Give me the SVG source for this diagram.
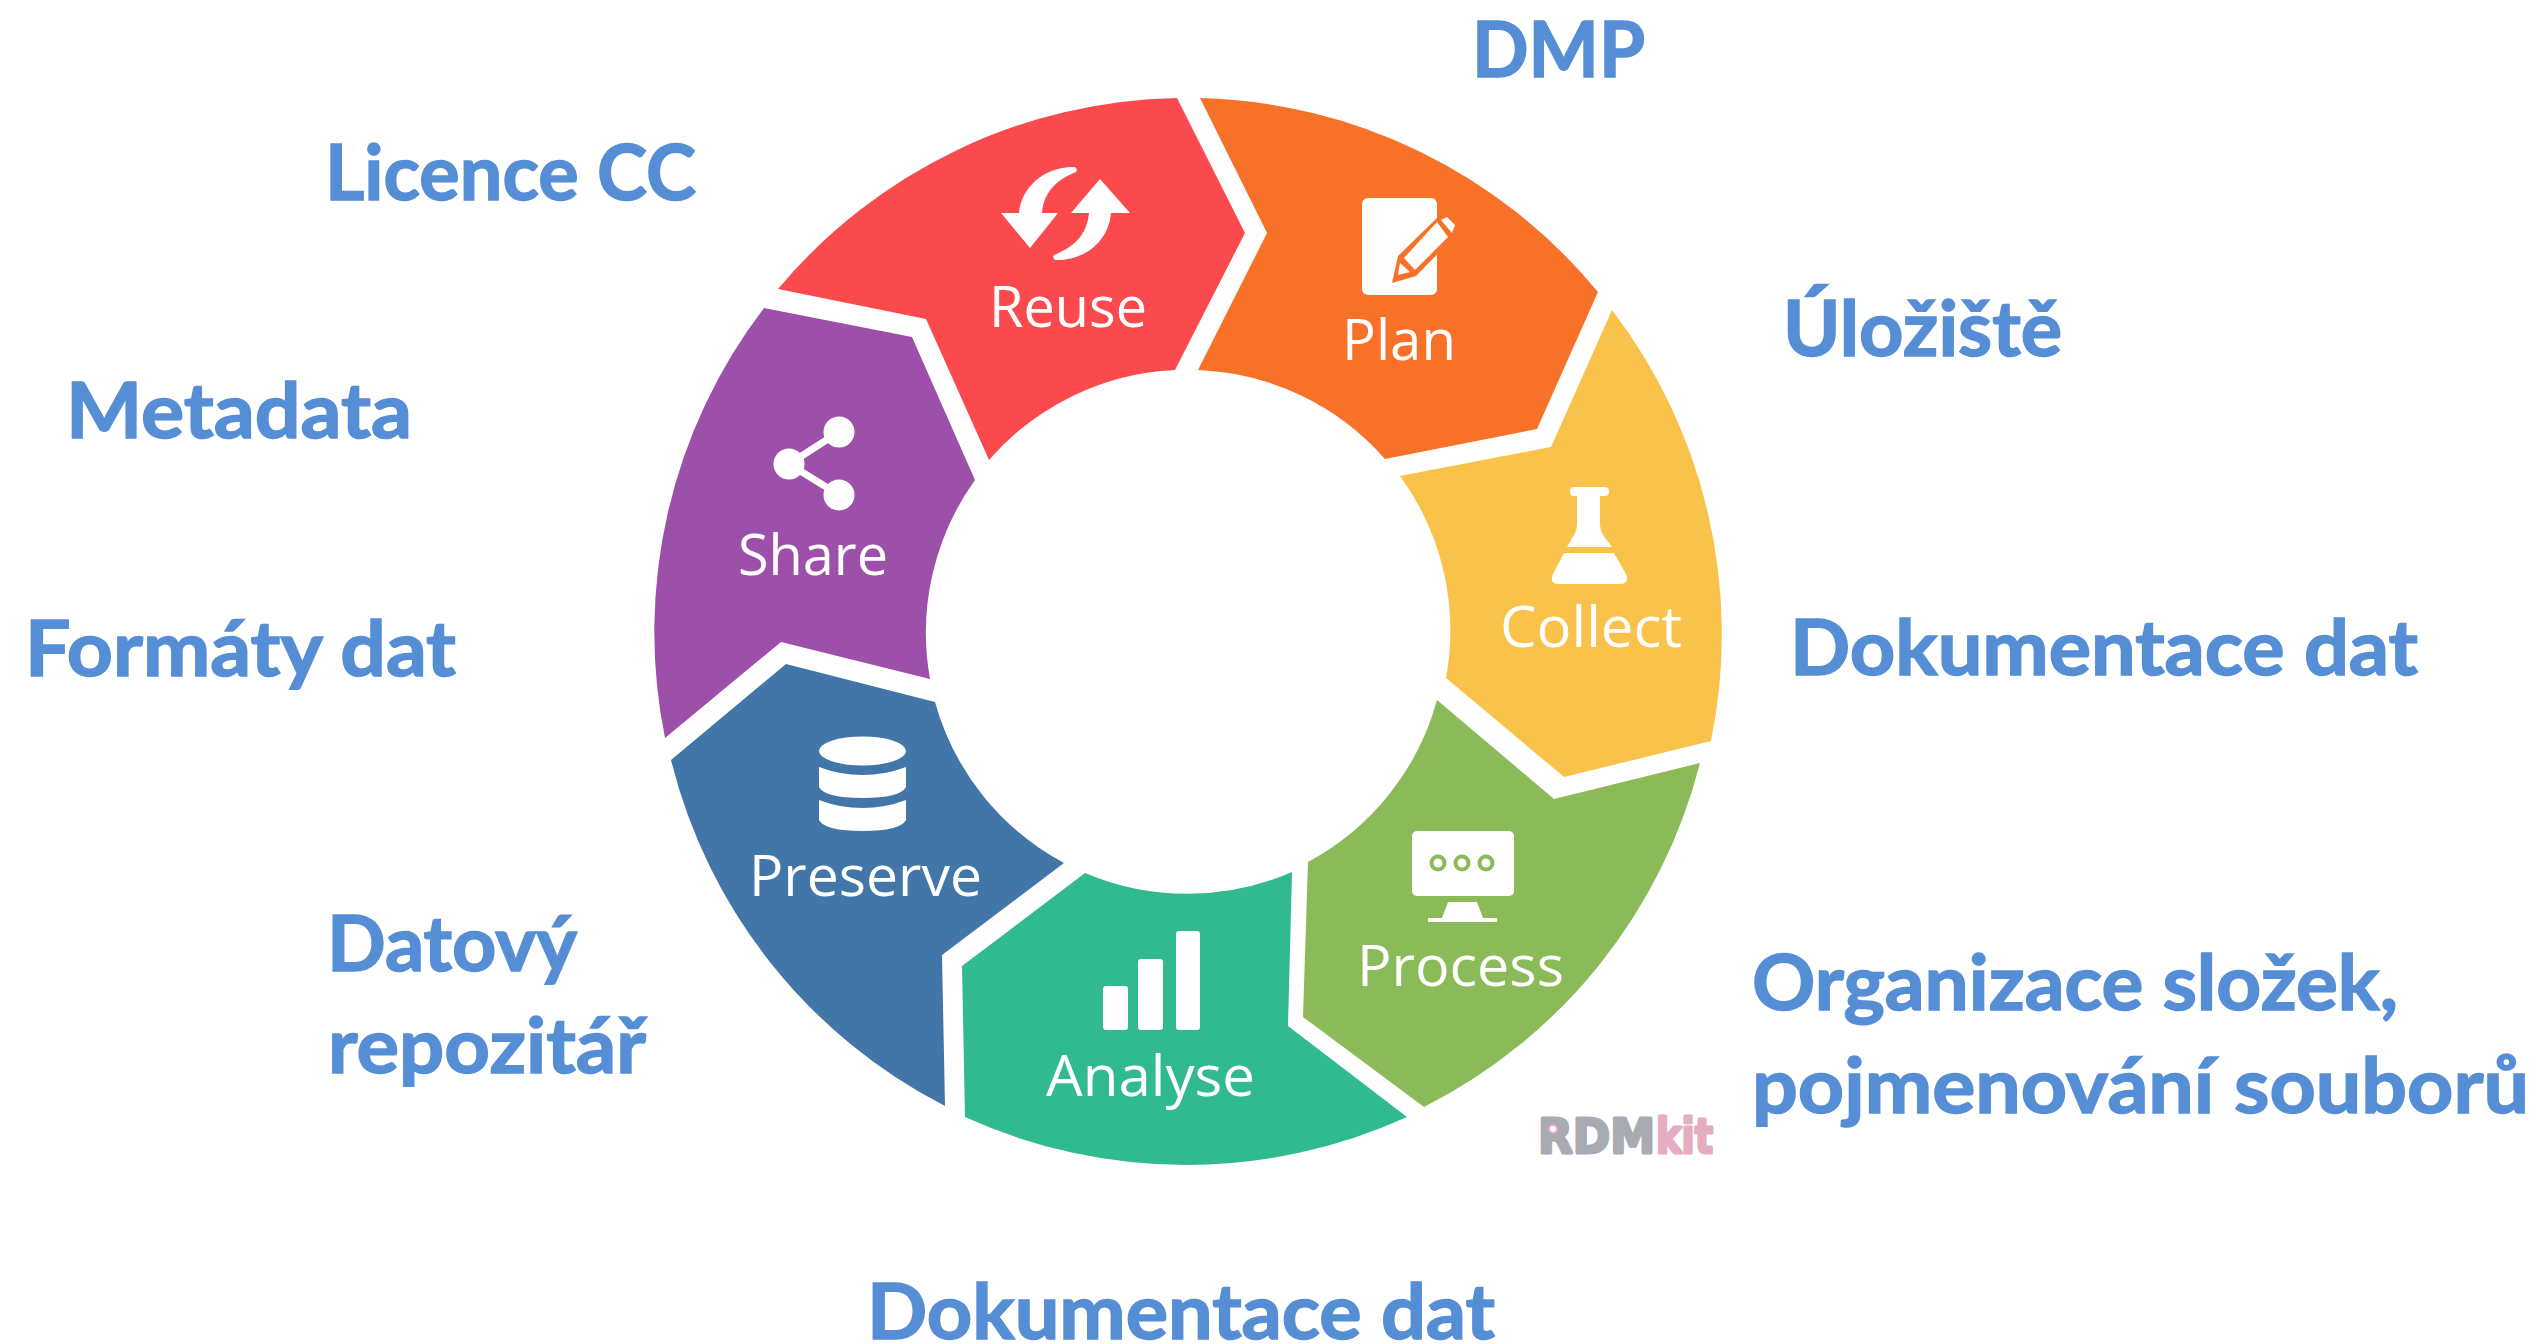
<svg xmlns="http://www.w3.org/2000/svg" width="2539" height="1344" viewBox="0 0 2539 1344">
<style>
.lbl{font-family:"Lato","Liberation Sans",sans-serif;font-weight:700;font-size:77px;fill:#568ED6;stroke:#568ED6;stroke-width:1.500px}
.seg{font-family:"Open Sans","Noto Sans",sans-serif;font-size:56px;fill:#fff}
.ic{fill:#fff}
</style>
<rect width="2539" height="1344" fill="#fff"/>
<g id="node-reuse">
<path fill="#FB4A4E" d="M778,289A533,533 0 0 1 1177,98L1245,233L1175,370A262,262 0 0 0 989,460L926,319Z"/>
<path class="ic" d="M1001,213H1019C1021,188 1044,166 1075,167Q1078,170 1076,172C1056,180 1044,192 1042,213H1058L1030,248Z"/>
<path class="ic" d="M1071,213L1100,179L1130,213H1111C1109,240 1086,261 1055,260Q1052,257 1054,255C1074,247 1087,235 1089,213Z"/>
<text class="seg" x="989" y="327" textLength="158" lengthAdjust="spacingAndGlyphs">Reuse</text>
</g>
<g id="node-plan">
<path fill="#F77228" d="M1200,98A533,533 0 0 1 1598,292L1537,429L1385,459A262,262 0 0 0 1198,370L1267,233Z"/>
<rect class="ic" x="1362" y="198" width="75" height="97" rx="6"/>
<path fill="#F77228" d="M1392,283L1398,256L1439,216L1450,213L1460,225L1456,235L1416,276Z"/>
<path class="ic" d="M1404,258L1437,222L1448,237L1415,270Z"/>
<path class="ic" d="M1441,220L1447,217L1455,225L1452,233Z"/>
<path class="ic" d="M1400,263L1410,272L1398,275Z"/>
<text class="seg" x="1342" y="360" textLength="114" lengthAdjust="spacingAndGlyphs">Plan</text>
</g>
<g id="node-collect">
<path fill="#F9C24B" d="M1612,310A533,533 0 0 1 1711,741L1564,777L1446,678A262,262 0 0 0 1400,476L1551,447Z"/>
<path class="ic" d="M1574,487H1605Q1609,487 1609,491.500Q1609,496 1605,496H1600V525Q1600,530 1603,535L1612,547H1567L1574,535Q1577,530 1577,525V496H1574Q1570,496 1570,491.500Q1570,487 1574,487Z"/>
<path class="ic" d="M1564,553H1614L1626,574Q1630,584 1620,584H1559Q1549,584 1553,574Z"/>
<text class="seg" x="1500" y="647" textLength="182" lengthAdjust="spacingAndGlyphs">Collect</text>
</g>
<g id="node-process">
<path fill="#8ABB58" d="M1700,763A533,533 0 0 1 1424,1107L1303,1017L1308,862A262,262 0 0 0 1437,700L1554,799Z"/>
<rect class="ic" x="1412" y="831" width="102" height="65" rx="5"/>
<path class="ic" d="M1448,902H1477L1483,918H1497V922H1428V918H1442Z"/>
<g fill="#fff" stroke="#8ABB58" stroke-width="4"><circle cx="1438" cy="863" r="6.500"/><circle cx="1462" cy="863" r="6.500"/><circle cx="1486" cy="863" r="6.500"/></g>
<text class="seg" x="1357" y="986" textLength="207" lengthAdjust="spacingAndGlyphs">Process</text>
</g>
<g id="node-analyse">
<path fill="#31B98F" d="M1407,1117A533,533 0 0 1 965,1117L962,966L1085,873A262,262 0 0 0 1292,872L1288,1026Z"/>
<rect class="ic" x="1103" y="986" width="25" height="44" rx="3"/>
<rect class="ic" x="1138" y="959" width="25" height="71" rx="3"/>
<rect class="ic" x="1176" y="931" width="24" height="99" rx="3"/>
<text class="seg" x="1046" y="1096" textLength="209" lengthAdjust="spacingAndGlyphs">Analyse</text>
</g>
<g id="node-preserve">
<path fill="#4276A8" d="M945,1106A533,533 0 0 1 671,760L786,664L935,702A262,262 0 0 0 1064,863L942,955Z"/>
<ellipse class="ic" cx="862.500" cy="751" rx="43.500" ry="14.500"/>
<path class="ic" d="M819,767Q840,775 862.500,775Q885,775 906,767V787Q900,798 862.500,798Q825,798 819,787Z"/>
<path class="ic" d="M819,800Q840,808 862.500,808Q885,808 906,800V820Q900,831 862.500,831Q825,831 819,820Z"/>
<text class="seg" x="749" y="896" textLength="233" lengthAdjust="spacingAndGlyphs">Preserve</text>
</g>
<g id="node-share">
<path fill="#9D50A9" d="M665,738A533,533 0 0 1 764,308L912,337L975,480A262,262 0 0 0 930,679L781,642Z"/>
<path fill="none" stroke="#fff" stroke-width="7" d="M839,432L789,464L839,495"/>
<circle class="ic" cx="839" cy="432" r="15.500"/><circle class="ic" cx="789" cy="464" r="15.500"/><circle class="ic" cx="839" cy="495" r="15.500"/>
<text class="seg" x="738" y="575" textLength="150" lengthAdjust="spacingAndGlyphs">Share</text>
</g>
<g id="logo-rdmkit" font-family="'DejaVu Sans',sans-serif" font-weight="700" font-size="48" stroke-width="3" stroke-linejoin="round">
<text x="1538" y="1153" fill="#A9ABB2" stroke="#A9ABB2" textLength="117" lengthAdjust="spacingAndGlyphs">RDM</text>
<text x="1656" y="1153" fill="#E5ACC2" stroke="#E5ACC2" textLength="57" lengthAdjust="spacingAndGlyphs">kit</text>
<circle cx="1553" cy="1129" r="4" fill="#fff" stroke="#E5ACC2" stroke-width="2"/>
</g>
<g id="labels">
<text class="lbl" x="1472" y="77" textLength="173" lengthAdjust="spacingAndGlyphs">DMP</text>
<text class="lbl" x="325" y="200" textLength="371" lengthAdjust="spacingAndGlyphs">Licence CC</text>
<text class="lbl" x="1783" y="356" textLength="279" lengthAdjust="spacingAndGlyphs">Úložiště</text>
<text class="lbl" x="66" y="438" textLength="346" lengthAdjust="spacingAndGlyphs">Metadata</text>
<text class="lbl" x="25" y="676" textLength="431" lengthAdjust="spacingAndGlyphs">Formáty dat</text>
<text class="lbl" x="1790" y="675" textLength="628" lengthAdjust="spacingAndGlyphs">Dokumentace dat</text>
<text class="lbl" x="327" y="971" textLength="250" lengthAdjust="spacingAndGlyphs">Datový</text>
<text class="lbl" x="328" y="1073" textLength="318" lengthAdjust="spacingAndGlyphs">repozitář</text>
<text class="lbl" x="1752" y="1010" textLength="646" lengthAdjust="spacingAndGlyphs">Organizace složek,</text>
<text class="lbl" x="1752" y="1113" textLength="777" lengthAdjust="spacingAndGlyphs">pojmenování souborů</text>
<text class="lbl" x="867" y="1339" textLength="628" lengthAdjust="spacingAndGlyphs">Dokumentace dat</text>
</g>
<g id="connectors"></g>
</svg>
